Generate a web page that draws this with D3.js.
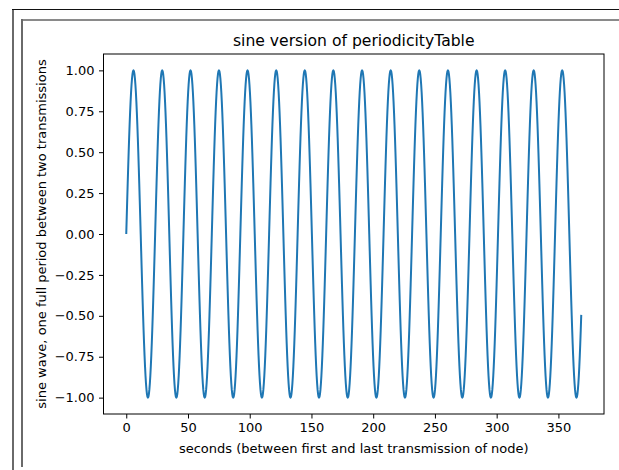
<!DOCTYPE html>
<html>
<head>
<meta charset="utf-8">
<script src="https://cdn.jsdelivr.net/npm/d3@7"></script>
<style>
  html, body { margin: 0; padding: 0; background: #fff; }
  svg { display: block; font-family: "DejaVu Sans", sans-serif; }
</style>
</head>
<body>
<svg id="chart" width="619" height="470"></svg>
<script>
// Transmission times of the node (seconds after the first one); each gap is one full sine period.
const transmissions = [0, 23.4, 46.3, 69.3, 92.4, 115.7, 138.8, 161.9, 185.2, 208.4, 231.5, 254.7, 278.0, 301.1, 324.2, 347.3];
const lastTransmission = 368.5;
const xTicks = [0, 50, 100, 150, 200, 250, 300, 350];
const yTicks = [-1.0, -0.75, -0.5, -0.25, 0.0, 0.25, 0.5, 0.75, 1.0];
const titleText = "sine version of periodicityTable";
const xLabel = "seconds (between first and last transmission of node)";
const yLabel = "sine wave, one full period between two transmissions";

const svg = d3.select("#chart");

// window frame lines
svg.append("rect").attr("x", 12).attr("y", 9).attr("width", 2).attr("height", 461).attr("fill", "#6a6a6a");
svg.append("rect").attr("x", 12).attr("y", 9).attr("width", 607).attr("height", 1).attr("fill", "#111");
svg.append("rect").attr("x", 21).attr("y", 19).attr("width", 598).attr("height", 2).attr("fill", "#8a8a8a");
svg.append("rect").attr("x", 21).attr("y", 19).attr("width", 2).attr("height", 448).attr("fill", "#6a6a6a");

const plot = { left: 103.5, right: 604, top: 54, bottom: 414 };

// autoscale with 5% margins
const xMin = 0, xMax = lastTransmission;
const xPad = (xMax - xMin) * 0.05;
const x = d3.scaleLinear().domain([xMin - xPad, xMax + xPad]).range([plot.left, plot.right]);
const y = d3.scaleLinear().domain([-1.1, 1.1]).range([plot.bottom, plot.top]);

// one sine period between consecutive transmissions
const points = [];
transmissions.forEach((s, i) => {
  const e = i + 1 < transmissions.length ? transmissions[i + 1] : s + (s - transmissions[i - 1]);
  const n = 60;
  d3.range(n + 1).forEach(k => {
    const t = s + (e - s) * k / n;
    if (t <= lastTransmission && (k < n || i + 1 === transmissions.length)) {
      points.push([t, Math.sin(2 * Math.PI * (t - s) / (e - s))]);
    }
  });
});
const lastStart = transmissions[transmissions.length - 1];
const lastPeriod = lastStart - transmissions[transmissions.length - 2];
if (points[points.length - 1][0] < lastTransmission) {
  points.push([lastTransmission, Math.sin(2 * Math.PI * (lastTransmission - lastStart) / lastPeriod)]);
}

svg.append("path")
  .datum(points)
  .attr("fill", "none")
  .attr("stroke", "#1f77b4")
  .attr("stroke-width", 2)
  .attr("stroke-linejoin", "round")
  .attr("d", d3.line().x(d => x(d[0])).y(d => y(d[1])));

// axes
const fmtY = d3.format(".2f");
const xAxis = svg.append("g")
  .attr("transform", `translate(0,${plot.bottom})`)
  .call(d3.axisBottom(x).tickValues(xTicks).tickFormat(d3.format("d")).tickSize(4.5).tickPadding(4.5).tickSizeOuter(0));
const yAxis = svg.append("g")
  .attr("transform", `translate(${plot.left},0)`)
  .call(d3.axisLeft(y).tickValues(yTicks).tickFormat(fmtY).tickSize(4.5).tickPadding(4.5).tickSizeOuter(0));
[xAxis, yAxis].forEach(g => {
  g.select(".domain").remove();
  g.selectAll("line").attr("stroke", "#000").attr("stroke-width", 1);
  g.selectAll("text").attr("fill", "#000").attr("font-size", 13).attr("font-family", "DejaVu Sans, sans-serif");
});

// frame around the plot area
svg.append("rect")
  .attr("x", plot.left).attr("y", plot.top)
  .attr("width", plot.right - plot.left).attr("height", plot.bottom - plot.top)
  .attr("fill", "none").attr("stroke", "#000").attr("stroke-width", 1);

svg.append("text")
  .attr("x", (plot.left + plot.right) / 2).attr("y", 46)
  .attr("text-anchor", "middle").attr("font-size", 15.6).attr("fill", "#000")
  .text(titleText);

svg.append("text")
  .attr("x", (plot.left + plot.right) / 2).attr("y", 453)
  .attr("text-anchor", "middle").attr("font-size", 13).attr("fill", "#000")
  .text(xLabel);

svg.append("text")
  .attr("transform", `translate(45.5,${(plot.top + plot.bottom) / 2}) rotate(-90)`)
  .attr("text-anchor", "middle").attr("font-size", 13).attr("fill", "#000")
  .text(yLabel);
</script>
</body>
</html>
